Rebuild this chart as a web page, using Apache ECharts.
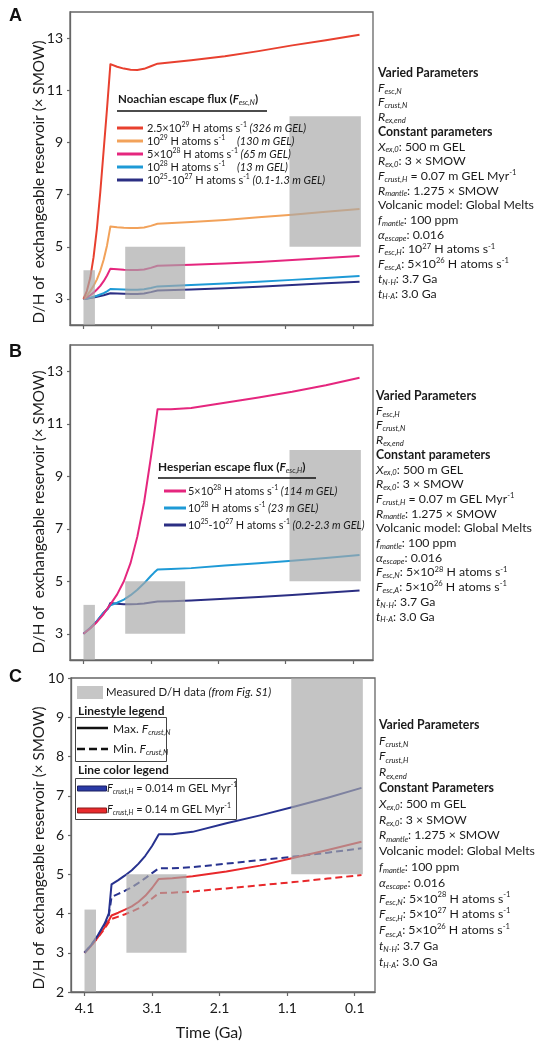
<!DOCTYPE html>
<html><head><meta charset="utf-8">
<script src="https://cdn.jsdelivr.net/npm/echarts@6/dist/echarts.min.js"></script>
<style>html,body{margin:0;padding:0;background:#fff}#c{width:541px;height:1050px}</style>
</head><body><div id="c"></div>
<script>
// ---------------- DATA ----------------
const xTicks = [4.1, 3.1, 2.1, 1.1, 0.1];
const yTicksAB = [3, 5, 7, 9, 11, 13];

// Measured D/H boxes: time start, time end, D/H low, D/H high
const boxStart = [4.1, 3.48, 1.04];
const boxEnd = [3.93, 2.59, -0.02];
const boxLow = [2, 3, 5];
const boxHigh = [4.1, 5, 10];

// Panel A (Noachian escape flux)
const timeA = [4.1, 4.05, 4.0, 3.95, 3.9, 3.85, 3.8, 3.75, 3.7, 3.6, 3.5, 3.4, 3.3, 3.2, 3.1, 3.0, 2.5, 2.0, 1.5, 1.0, 0.5, 0.0];
const aRed     = [3.0, 3.3, 3.8, 4.6, 5.7, 7.1, 8.7, 10.3, 12.0, 11.9, 11.83, 11.79, 11.78, 11.82, 11.92, 12.02, 12.15, 12.3, 12.5, 12.72, 12.92, 13.13];
const aOrange  = [3.0, 3.12, 3.3, 3.5, 3.75, 4.08, 4.5, 5.05, 5.78, 5.75, 5.73, 5.72, 5.72, 5.74, 5.8, 5.88, 5.95, 6.03, 6.13, 6.23, 6.34, 6.45];
const aMagenta = [3.0, 3.06, 3.14, 3.24, 3.36, 3.5, 3.68, 3.9, 4.16, 4.14, 4.12, 4.11, 4.11, 4.13, 4.19, 4.27, 4.31, 4.36, 4.42, 4.49, 4.57, 4.65];
const aBlue    = [3.0, 3.02, 3.05, 3.08, 3.12, 3.17, 3.22, 3.29, 3.38, 3.37, 3.36, 3.35, 3.35, 3.37, 3.42, 3.48, 3.53, 3.59, 3.66, 3.73, 3.8, 3.88];
const aNavy    = [3.0, 3.01, 3.03, 3.05, 3.08, 3.11, 3.14, 3.18, 3.22, 3.21, 3.2, 3.19, 3.19, 3.21, 3.26, 3.32, 3.36, 3.41, 3.47, 3.53, 3.6, 3.66];

// Panel B (Hesperian escape flux)
const timeB = [4.1, 4.0, 3.9, 3.8, 3.74, 3.7, 3.6, 3.5, 3.4, 3.3, 3.2, 3.1, 3.05, 3.0, 2.8, 2.5, 2.0, 1.5, 1.0, 0.5, 0.0];
const bMagenta = [3.0, 3.2, 3.45, 3.75, 3.98, 4.12, 4.5, 5.0, 5.7, 6.7, 8.0, 9.7, 10.6, 11.55, 11.55, 11.6, 11.8, 12.0, 12.22, 12.47, 12.75];
const bBlue    = [3.0, 3.22, 3.48, 3.8, 3.95, 4.08, 4.18, 4.3, 4.47, 4.68, 4.92, 5.2, 5.33, 5.45, 5.47, 5.5, 5.6, 5.69, 5.78, 5.89, 6.0];
const bNavy    = [3.0, 3.22, 3.48, 3.8, 3.95, 4.17, 4.14, 4.12, 4.12, 4.13, 4.15, 4.19, 4.21, 4.23, 4.24, 4.27, 4.33, 4.4, 4.48, 4.56, 4.65];

// Panel C (crustal hydration)
const timeC = [4.1, 4.0, 3.9, 3.8, 3.74, 3.7, 3.6, 3.5, 3.4, 3.3, 3.2, 3.1, 3.0, 2.8, 2.5, 2.0, 1.5, 1.0, 0.5, 0.0];
const cBlueMax = [3.0, 3.2, 3.45, 3.75, 4.0, 4.74, 4.85, 4.97, 5.1, 5.27, 5.47, 5.72, 6.02, 6.02, 6.08, 6.3, 6.5, 6.72, 6.95, 7.2];
const cBlueMin = [3.0, 3.2, 3.43, 3.72, 3.95, 4.42, 4.5, 4.58, 4.67, 4.78, 4.9, 5.03, 5.15, 5.15, 5.18, 5.27, 5.36, 5.45, 5.55, 5.66];
const cRedMax  = [3.0, 3.18, 3.4, 3.65, 3.82, 3.95, 4.02, 4.1, 4.18, 4.3, 4.45, 4.65, 4.88, 4.9, 4.95, 5.07, 5.22, 5.42, 5.62, 5.83];
const cRedMin  = [3.0, 3.18, 3.39, 3.62, 3.78, 3.86, 3.92, 3.98, 4.05, 4.13, 4.24, 4.38, 4.52, 4.53, 4.56, 4.64, 4.72, 4.8, 4.89, 4.98];

// ---------------- STYLE ----------------
const FF = 'Lato';
const TXT = '#1a1a1a';
const AX = '#666';
const COL = {red:'#e8402f', orange:'#f2a25a', magenta:'#e5267e', blue:'#1e9ad6', navy:'#2b2e83', cblue:'#27328f', cred:'#e8282b'};
const BOXFILL = 'rgba(168,168,168,0.68)';

function richSet(fs, lh) {
  const base = {fontFamily: FF, fontSize: fs, lineHeight: lh, fill: TXT};
  const sfs = Math.round(fs * 0.62 * 10) / 10;
  return {
    n: Object.assign({}, base),
    b: Object.assign({}, base, {fontWeight: 'bold'}),
    i: Object.assign({}, base, {fontStyle: 'italic'}),
    bi: Object.assign({}, base, {fontStyle: 'italic', fontWeight: 'bold'}),
    s: {fontFamily: FF, fontSize: sfs, fontStyle: 'italic', lineHeight: 4, verticalAlign: 'bottom', fill: TXT},
    p: {fontFamily: FF, fontSize: sfs, lineHeight: 5, verticalAlign: 'top', fill: TXT}
  };
}
function rtext(x, y, text, fs, lh, va, extra) {
  return Object.assign({type: 'text', x: x, y: y, z: 100,
    style: {text: text, rich: richSet(fs, lh), fontFamily: FF, fontSize: fs, lineHeight: lh, fill: TXT, align: 'left', verticalAlign: va || 'middle'}}, extra || {});
}
function hline(x1, x2, y, color, w, dash) {
  return {type: 'line', z: 100, shape: {x1: x1, y1: y, x2: x2, y2: y}, style: {stroke: color, lineWidth: w, lineDash: dash || null}};
}

// ---------------- TEXT BLOCKS ----------------
const paramsA = [
 '{b|Varied Parameters}',
 '{i|F}{s|esc,N}',
 '{i|F}{s|crust,N}',
 '{i|R}{s|ex,end}',
 '{b|Constant parameters}',
 '{i|X}{s|ex,0}{n|: 500 m GEL}',
 '{i|R}{s|ex,0}{n|: 3 × SMOW}',
 '{i|F}{s|crust,H}{n| = 0.07 m GEL Myr}{p|-1}',
 '{i|R}{s|mantle}{n|: 1.275 × SMOW}',
 '{n|Volcanic model: Global Melts}',
 '{i|f}{s|mantle}{n|: 100 ppm}',
 '{i|α}{s|escape}{n|: 0.016}',
 '{i|F}{s|esc,H}{n|: 10}{p|27}{n| H atoms s}{p|-1}',
 '{i|F}{s|esc,A}{n|: 5×10}{p|26}{n| H atoms s}{p|-1}',
 '{i|t}{s|N-H}{n|: 3.7 Ga}',
 '{i|t}{s|H-A}{n|: 3.0 Ga}'
];
const paramsB = [
 '{b|Varied Parameters}',
 '{i|F}{s|esc,H}',
 '{i|F}{s|crust,N}',
 '{i|R}{s|ex,end}',
 '{b|Constant parameters}',
 '{i|X}{s|ex,0}{n|: 500 m GEL}',
 '{i|R}{s|ex,0}{n|: 3 × SMOW}',
 '{i|F}{s|crust,H}{n| = 0.07 m GEL Myr}{p|-1}',
 '{i|R}{s|mantle}{n|: 1.275 × SMOW}',
 '{n|Volcanic model: Global Melts}',
 '{i|f}{s|mantle}{n|: 100 ppm}',
 '{i|α}{s|escape}{n|: 0.016}',
 '{i|F}{s|esc,N}{n|: 5×10}{p|28}{n| H atoms s}{p|-1}',
 '{i|F}{s|esc,A}{n|: 5×10}{p|26}{n| H atoms s}{p|-1}',
 '{i|t}{s|N-H}{n|: 3.7 Ga}',
 '{i|t}{s|H-A}{n|: 3.0 Ga}'
];
const paramsC = [
 '{b|Varied Parameters}',
 '{i|F}{s|crust,N}',
 '{i|F}{s|crust,H}',
 '{i|R}{s|ex,end}',
 '{b|Constant Parameters}',
 '{i|X}{s|ex,0}{n|: 500 m GEL}',
 '{i|R}{s|ex,0}{n|: 3 × SMOW}',
 '{i|R}{s|mantle}{n|: 1.275 × SMOW}',
 '{n|Volcanic model: Global Melts}',
 '{i|f}{s|mantle}{n|: 100 ppm}',
 '{i|α}{s|escape}{n|: 0.016}',
 '{i|F}{s|esc,N}{n|: 5×10}{p|28}{n| H atoms s}{p|-1}',
 '{i|F}{s|esc,H}{n|: 5×10}{p|27}{n| H atoms s}{p|-1}',
 '{i|F}{s|esc,A}{n|: 5×10}{p|26}{n| H atoms s}{p|-1}',
 '{i|t}{s|N-H}{n|: 3.7 Ga}',
 '{i|t}{s|H-A}{n|: 3.0 Ga}'
];

// legend rows: main text, italic note, colour, x of separate italic column (null = inline)
const legendA = [
 ['{n|2.5×10}{p|29}{n| H atoms s}{p|-1}', '(326 m GEL)', COL.red, null],
 ['{n|10}{p|29}{n| H atoms s}{p|-1}', '(130 m GEL)', COL.orange, 237],
 ['{n|5×10}{p|28}{n| H atoms s}{p|-1}', '(65 m GEL)', COL.magenta, null],
 ['{n|10}{p|28}{n| H atoms s}{p|-1}', '(13 m GEL)', COL.blue, 237],
 ['{n|10}{p|25}{n|-10}{p|27}{n| H atoms s}{p|-1}', '(0.1-1.3 m GEL)', COL.navy, null]
];
const legendB = [
 ['{n|5×10}{p|28}{n| H atoms s}{p|-1}{i| (114 m GEL)}', COL.magenta],
 ['{n|10}{p|28}{n| H atoms s}{p|-1}{i| (23 m GEL)}', COL.blue],
 ['{n|10}{p|25}{n|-10}{p|27}{n| H atoms s}{p|-1}{i| (0.2-2.3 m GEL)}', COL.navy]
];

// ---------------- GRAPHICS ----------------
const graphics = [];
[['A', 16], ['B', 352], ['C', 677]].forEach(function (p) {
  graphics.push({type: 'text', x: 9, y: p[1], z: 100, style: {text: p[0], fontFamily: 'Liberation Sans', fontWeight: 'bold', fontSize: 18, fill: '#111', align: 'left', verticalAlign: 'middle'}});
});
[182, 512, 848].forEach(function (cy) {
  graphics.push({type: 'text', x: 39, y: cy, rotation: Math.PI / 2, z: 100,
    style: {text: 'D/H of  exchangeable reservoir (× SMOW)', fontFamily: FF, fontSize: 15.2, fill: TXT, align: 'center', verticalAlign: 'middle'}});
});
graphics.push({type: 'text', x: 209, y: 1033, z: 100, style: {text: 'Time (Ga)', fontFamily: FF, fontSize: 16, fill: TXT, align: 'center', verticalAlign: 'middle'}});

graphics.push(rtext(378, 65.7, paramsA.join('\n'), 12.3, 14.7, 'top'));
graphics.push(rtext(376, 388.7, paramsB.join('\n'), 12.3, 14.7, 'top'));
graphics.push(rtext(379, 717, paramsC.join('\n'), 12.3, 15.8, 'top'));

// legend A
graphics.push(rtext(118, 99, '{b|Noachian escape flux (}{bi|F}{s|esc,N}{b|)}', 11.5, 14));
graphics.push(hline(117, 267, 111, '#111', 1.5));
legendA.forEach(function (r, k) {
  const y = 128 + 13 * k;
  graphics.push(hline(117, 143, y, r[2], 3));
  if (r[3] === null) {
    graphics.push(rtext(147, y, r[0] + '{i| ' + r[1] + '}', 11, 14));
  } else {
    graphics.push(rtext(147, y, r[0], 11, 14));
    graphics.push(rtext(r[3], y, '{i|' + r[1] + '}', 11, 14));
  }
});
// legend B
graphics.push(rtext(158, 467, '{b|Hesperian escape flux (}{bi|F}{s|esc,H}{b|)}', 11.8, 14));
graphics.push(hline(158, 316, 478, '#111', 1.5));
legendB.forEach(function (r, k) {
  const y = 491 + 17 * k;
  graphics.push(hline(164, 186, y, r[1], 3));
  graphics.push(rtext(188, y, r[0], 10.9, 14));
});
// legend C
graphics.push({type: 'rect', z: 100, shape: {x: 77, y: 686, width: 26, height: 13}, style: {fill: '#c6c6c6'}});
graphics.push(rtext(106, 692, '{n|Measured D/H data }{i|(from Fig. S1)}', 11.4, 14));
graphics.push(rtext(78, 711, '{b|Linestyle legend}', 12, 14));
graphics.push({type: 'rect', z: 100, shape: {x: 75.5, y: 717.5, width: 91, height: 44}, style: {fill: '#fff', stroke: '#444', lineWidth: 1}});
graphics.push(hline(77, 108, 728, '#111', 2.5));
graphics.push(hline(77, 108, 749, '#111', 2.5, [8, 4]));
graphics.push(rtext(113, 729, '{n|Max. }{i|F}{s|crust,N}', 12, 14));
graphics.push(rtext(113, 749, '{n|Min. }{i|F}{s|crust,N}', 12, 14));
graphics.push(rtext(78, 770, '{b|Line color legend}', 12, 14));
graphics.push({type: 'rect', z: 100, shape: {x: 75.5, y: 778.5, width: 161, height: 41}, style: {fill: '#fff', stroke: '#444', lineWidth: 1}});
graphics.push({type: 'rect', z: 101, shape: {x: 77.5, y: 786, width: 29, height: 5}, style: {fill: '#2a3aa6', stroke: '#1b1f60', lineWidth: 1}});
graphics.push({type: 'rect', z: 101, shape: {x: 77.5, y: 808, width: 29, height: 5}, style: {fill: '#e82a2c', stroke: '#8a1a1a', lineWidth: 1}});
graphics.push(rtext(107, 788, '{i|F}{s|crust,H}{n| = 0.014 m GEL Myr}{p|-1}', 11, 14));
graphics.push(rtext(107, 809, '{i|F}{s|crust,H}{n| = 0.14 m GEL Myr}{p|-1}', 11, 14));

// ---------------- CHART ----------------
const grids = [
  {left: 70, top: 12, width: 303, height: 313},
  {left: 70, top: 345, width: 303, height: 315},
  {left: 71, top: 678, width: 304, height: 314}
].map(function (g) { return Object.assign(g, {show: true, borderColor: AX, borderWidth: 1.3, backgroundColor: 'transparent', containLabel: false}); });

const xAxes = [0, 1, 2].map(function (i) {
  return {gridIndex: i, type: 'value', inverse: true, min: -0.2, max: 4.3,
    axisLine: {show: true, onZero: false, lineStyle: {color: AX, width: 1.3}},
    axisTick: {show: true, customValues: xTicks, length: 4, lineStyle: {color: AX, width: 1.2}},
    axisLabel: {show: i === 2, customValues: xTicks, formatter: function (v) { return v.toFixed(1); }, fontFamily: FF, fontSize: 14, color: TXT, margin: 9},
    splitLine: {show: false}};
});
const yAxes = [0, 1, 2].map(function (i) {
  const isC = i === 2;
  const ax = {gridIndex: i, type: 'value', min: 2, max: isC ? 10 : 14,
    axisLine: {show: true, onZero: false, lineStyle: {color: AX, width: 1.3}},
    axisTick: {show: true, length: 3, lineStyle: {color: AX, width: 1.2}},
    axisLabel: {fontFamily: FF, fontSize: 14, color: TXT, margin: 7},
    splitLine: {show: false}};
  if (isC) { ax.interval = 1; }
  else { ax.axisTick.customValues = yTicksAB; ax.axisLabel.customValues = yTicksAB; }
  return ax;
});

function lineSeries(g, t, vals, color, dashed) {
  return {type: 'line', xAxisIndex: g, yAxisIndex: g, data: t.map(function (x, k) { return [x, vals[k]]; }),
    showSymbol: false, symbol: 'none', smooth: false, silent: true, z: 2,
    lineStyle: {color: color, width: 2, type: dashed ? [7, 4] : 'solid', cap: 'butt', join: 'round'}};
}
const boxData = boxStart.map(function (s, k) { return [s, boxEnd[k], boxLow[k], boxHigh[k]]; });
function boxSeries(g) {
  return {type: 'custom', xAxisIndex: g, yAxisIndex: g, z: 5, silent: true, data: boxData,
    encode: {x: [0, 1], y: [2, 3]},
    renderItem: function (params, api) {
      const a = api.coord([api.value(0), api.value(3)]);
      const b = api.coord([api.value(1), api.value(2)]);
      const cs = params.coordSys;
      const shape = echarts.graphic.clipRectByRect(
        {x: Math.min(a[0], b[0]), y: Math.min(a[1], b[1]), width: Math.abs(b[0] - a[0]), height: Math.abs(b[1] - a[1])},
        {x: cs.x, y: cs.y, width: cs.width, height: cs.height});
      return shape && {type: 'rect', shape: shape, style: {fill: BOXFILL}};
    }};
}

const series = [
  lineSeries(0, timeA, aNavy, COL.navy), lineSeries(0, timeA, aBlue, COL.blue),
  lineSeries(0, timeA, aMagenta, COL.magenta), lineSeries(0, timeA, aOrange, COL.orange),
  lineSeries(0, timeA, aRed, COL.red),
  lineSeries(1, timeB, bNavy, COL.navy), lineSeries(1, timeB, bBlue, COL.blue),
  lineSeries(1, timeB, bMagenta, COL.magenta),
  lineSeries(2, timeC, cRedMin, COL.cred, true), lineSeries(2, timeC, cBlueMin, COL.cblue, true),
  lineSeries(2, timeC, cRedMax, COL.cred), lineSeries(2, timeC, cBlueMax, COL.cblue),
  boxSeries(0), boxSeries(1), boxSeries(2)
];

const chart = echarts.init(document.getElementById('c'), null, {renderer: 'canvas'});
chart.setOption({animation: false, backgroundColor: '#fff', grid: grids, xAxis: xAxes, yAxis: yAxes, series: series, graphic: graphics});
</script></body></html>
